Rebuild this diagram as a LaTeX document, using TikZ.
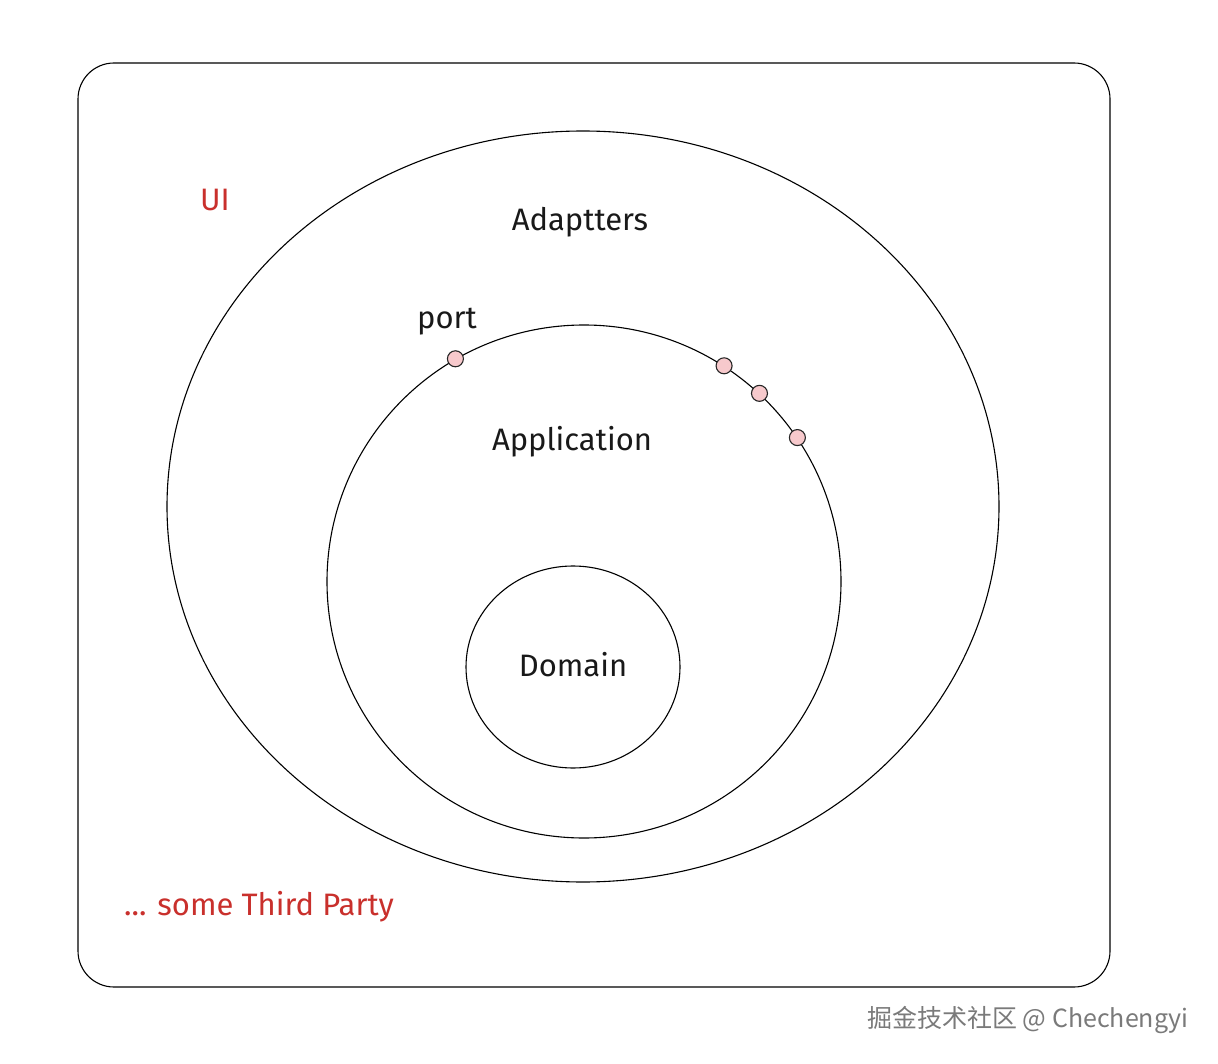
\documentclass[tikz,border=0pt]{standalone}
\usepackage{fontspec}
\setmainfont{Fira Sans}
\newfontfamily\cjkfont{Noto Sans CJK SC}
\usetikzlibrary{shapes.geometric}
\definecolor{redtxt}{HTML}{C9302C}
\definecolor{portfill}{HTML}{F7C9CC}
\definecolor{wmgray}{HTML}{7A7A7A}
\tikzset{
  ring/.style={ellipse, draw=black, line width=1.1pt, inner sep=0pt},
  portdot/.style={circle, draw=black!85, fill=portfill, line width=1.1pt, minimum size=16pt, inner sep=0pt},
  lbl/.style={font=\fontsize{31}{36}\selectfont, text=black!90, inner sep=0pt},
  redlbl/.style={font=\fontsize{31}{36}\selectfont, text=redtxt, inner sep=0pt},
}
\begin{document}
\begin{tikzpicture}[x=1pt,y=-1pt]
\useasboundingbox[fill=white] (0,0) rectangle (1218,1064);
\node[draw=black, line width=1.1pt, rounded corners=36pt, minimum width=1032pt, minimum height=924pt, inner sep=0pt] (frame) at (594,525) {};
\node[ring, minimum width=832pt, minimum height=751pt] (adapters) at (583,506.5) {};
\node[ring, minimum width=514pt, minimum height=513pt] (app) at (584,581.5) {};
\node[ring, minimum width=214pt, minimum height=202pt] (domain) at (573,667) {};
\node[portdot] (p1) at (app.120) {};
\node[portdot] (p2) at (app.57) {};
\node[portdot] (p3) at (app.47) {};
\node[portdot] (p4) at (app.34.5) {};
\node[lbl] (tadapt) at (580,222) {Adaptters};
\node[lbl] (tapp) at (572,442) {Application};
\node[lbl] (tdom) at (573,665) {Domain};
\node[lbl] (tport) at (447,322) {port};
\node[redlbl] (tui) at (215,200) {UI};
\node[redlbl] (tthird) at (259,907) {... some Third Party};
\node[font=\cjkfont\fontsize{25}{29}\selectfont, text=wmgray, inner sep=0pt] (wm) at (1028,1020) {掘金技术社区 @ Chechengyi};
\end{tikzpicture}
\end{document}
